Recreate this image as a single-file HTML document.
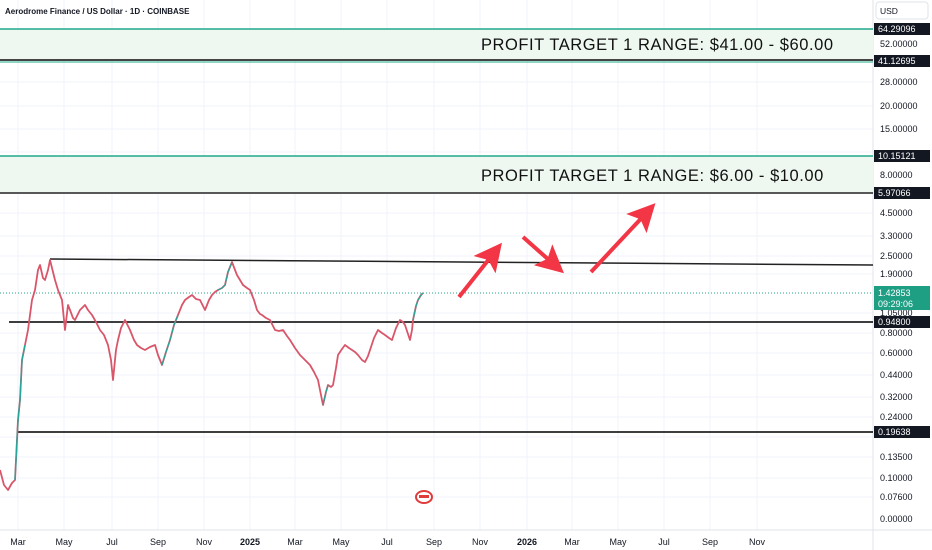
<!DOCTYPE html>
<html><head><meta charset="utf-8"><style>
body{margin:0;background:#fff;}
svg{display:block;font-family:"Liberation Sans",sans-serif;}
</style></head><body>
<svg width="932" height="550" viewBox="0 0 932 550" xmlns="http://www.w3.org/2000/svg">
<defs>
<marker id="ah" markerWidth="7" markerHeight="7" refX="5" refY="3.5" orient="auto" markerUnits="strokeWidth"><path d="M0,0 L7,3.5 L0,7 L1.5,3.5 Z" fill="#f23645"/></marker>
</defs>
<rect width="932" height="550" fill="#fff"/>
<g stroke="#f0f3fa" stroke-width="1">
<line x1="18" y1="0" x2="18" y2="530"/><line x1="64" y1="0" x2="64" y2="530"/><line x1="112" y1="0" x2="112" y2="530"/><line x1="158" y1="0" x2="158" y2="530"/><line x1="204" y1="0" x2="204" y2="530"/><line x1="250" y1="0" x2="250" y2="530"/><line x1="295" y1="0" x2="295" y2="530"/><line x1="341" y1="0" x2="341" y2="530"/><line x1="387" y1="0" x2="387" y2="530"/><line x1="434" y1="0" x2="434" y2="530"/><line x1="480" y1="0" x2="480" y2="530"/><line x1="527" y1="0" x2="527" y2="530"/><line x1="572" y1="0" x2="572" y2="530"/><line x1="618" y1="0" x2="618" y2="530"/><line x1="664" y1="0" x2="664" y2="530"/><line x1="710" y1="0" x2="710" y2="530"/><line x1="757" y1="0" x2="757" y2="530"/>
<line x1="0" y1="44" x2="873" y2="44"/><line x1="0" y1="82" x2="873" y2="82"/><line x1="0" y1="106" x2="873" y2="106"/><line x1="0" y1="129" x2="873" y2="129"/><line x1="0" y1="152" x2="873" y2="152"/><line x1="0" y1="175" x2="873" y2="175"/><line x1="0" y1="213" x2="873" y2="213"/><line x1="0" y1="236" x2="873" y2="236"/><line x1="0" y1="256" x2="873" y2="256"/><line x1="0" y1="274" x2="873" y2="274"/><line x1="0" y1="313" x2="873" y2="313"/><line x1="0" y1="333" x2="873" y2="333"/><line x1="0" y1="353" x2="873" y2="353"/><line x1="0" y1="375" x2="873" y2="375"/><line x1="0" y1="397" x2="873" y2="397"/><line x1="0" y1="417" x2="873" y2="417"/><line x1="0" y1="437" x2="873" y2="437"/><line x1="0" y1="457" x2="873" y2="457"/><line x1="0" y1="478" x2="873" y2="478"/><line x1="0" y1="497" x2="873" y2="497"/>
</g>
<line x1="0" y1="530" x2="932" y2="530" stroke="#e0e3eb"/>
<line x1="873" y1="0" x2="873" y2="550" stroke="#e0e3eb"/>
<rect x="0" y="29" width="873" height="31" fill="#eef8f0"/>
<line x1="0" y1="29" x2="873" y2="29" stroke="#22a88a" stroke-width="1.5"/>
<line x1="0" y1="60" x2="873" y2="60" stroke="#444" stroke-width="2"/>
<line x1="0" y1="62" x2="873" y2="62" stroke="#22a88a" stroke-width="1"/>
<text x="481" y="50" font-size="16.5" fill="#111" letter-spacing="0.55">PROFIT TARGET 1 RANGE: $41.00 - $60.00</text>
<rect x="0" y="156" width="873" height="37" fill="#eef8f0"/>
<line x1="0" y1="156" x2="873" y2="156" stroke="#22a88a" stroke-width="1.5"/>
<line x1="0" y1="193" x2="873" y2="193" stroke="#222" stroke-width="1.5"/>
<text x="481" y="181" font-size="16.5" fill="#111" letter-spacing="0.55">PROFIT TARGET 1 RANGE: $6.00 - $10.00</text>
<line x1="50" y1="259" x2="873" y2="265" stroke="#222" stroke-width="1.5"/>
<line x1="9" y1="322" x2="873" y2="322" stroke="#222" stroke-width="1.8"/>
<line x1="18" y1="432" x2="873" y2="432" stroke="#222" stroke-width="1.8"/>
<line x1="0" y1="293" x2="873" y2="293" stroke="#22a88a" stroke-width="1" stroke-dasharray="1,2"/>
<polyline fill="none" stroke="#d9566a" stroke-width="1.8" stroke-linejoin="round" points="0,470 4,485 8,490 12,483 15,480 18,420 20,400 22,360 25,345 28,330 32,300 35,290 38,270 40,265 43,278 45,280 48,270 50,260 53,272 55,280 58,290 62,300 65,330 68,305 70,310 73,318 75,320 80,310 85,305 88,310 92,315 96,322 100,330 104,335 108,345 111,360 113,380 116,350 118,340 121,328 125,320 128,326 130,330 134,340 137,345 141,348 145,350 150,347 155,345 158,355 162,365 166,352 170,340 174,325 178,315 182,305 185,300 189,297 192,295 196,299 200,300 203,306 205,310 209,300 212,295 215,292 218,290 222,288 225,285 228,272 232,262 235,270 237,275 240,280 243,285 247,288 250,290 254,300 257,310 260,314 262,315 266,318 270,320 273,326 275,330 279,331 283,330 287,336 290,340 295,348 300,355 305,360 310,365 314,372 318,380 321,395 323,405 326,392 328,385 331,387 333,385 336,368 338,355 342,349 345,345 349,348 352,350 355,352 358,355 362,360 365,362 368,356 370,350 374,338 378,330 382,333 385,335 389,338 392,340 396,328 400,320 403,322 405,325 408,334 410,340 412,330 413,320 416,306 418,300 421,295 423,293"/>
<polyline fill="none" stroke="#26a69a" stroke-width="1.4" points="15,480 18,420 20,400 22,360 25,345"/>
<polyline fill="none" stroke="#26a69a" stroke-width="1.2" points="162,365 166,352 170,340 174,325 178,315"/>
<polyline fill="none" stroke="#26a69a" stroke-width="1.2" points="218,290 222,288 225,285 228,272 232,262"/>
<polyline fill="none" stroke="#26a69a" stroke-width="1.2" points="323,405 326,392 328,385"/>
<polyline fill="none" stroke="#26a69a" stroke-width="1.2" points="413,320 416,306 418,300 421,295 423,293"/>
<line x1="459" y1="297" x2="497" y2="249" stroke="#f23645" stroke-width="4" marker-end="url(#ah)"/>
<line x1="523" y1="237" x2="558" y2="268" stroke="#f23645" stroke-width="4" marker-end="url(#ah)"/>
<line x1="591" y1="272" x2="650" y2="209" stroke="#f23645" stroke-width="4" marker-end="url(#ah)"/>
<ellipse cx="424" cy="497" rx="8" ry="6" fill="#fff" stroke="#e03a3a" stroke-width="2"/>
<rect x="419" y="495" width="10" height="3" fill="#e03a3a"/>
<text x="5" y="14" font-size="8" font-weight="bold" fill="#131722">Aerodrome Finance / US Dollar · 1D · COINBASE</text>
<rect x="876" y="2" width="52" height="17" rx="3" fill="#fff" stroke="#e0e3eb"/>
<text x="880" y="14" font-size="8.5" fill="#131722">USD</text>
<g font-size="9" fill="#131722">
<text x="880" y="47">52.00000</text><text x="880" y="85">28.00000</text><text x="880" y="109">20.00000</text><text x="880" y="132">15.00000</text><text x="880" y="178">8.00000</text><text x="880" y="216">4.50000</text><text x="880" y="239">3.30000</text><text x="880" y="259">2.50000</text><text x="880" y="277">1.90000</text><text x="880" y="316">1.05000</text><text x="880" y="336">0.80000</text><text x="880" y="356">0.60000</text><text x="880" y="378">0.44000</text><text x="880" y="400">0.32000</text><text x="880" y="420">0.24000</text><text x="880" y="460">0.13500</text><text x="880" y="481">0.10000</text><text x="880" y="500">0.07600</text><text x="880" y="522">0.00000</text>
</g>
<g font-size="9" fill="#fff">
<rect x="874" y="23" width="56" height="12" fill="#131722"/><text x="878" y="32">64.29096</text>
<rect x="874" y="55" width="56" height="12" fill="#131722"/><text x="878" y="64">41.12695</text>
<rect x="874" y="150" width="56" height="12" fill="#131722"/><text x="878" y="159">10.15121</text>
<rect x="874" y="187" width="56" height="12" fill="#131722"/><text x="878" y="196">5.97066</text>
<rect x="874" y="286" width="56" height="24" fill="#1e9f84"/><text x="878" y="296">1.42853</text><text x="878" y="307">09:29:06</text>
<rect x="874" y="316" width="56" height="12" fill="#131722"/><text x="878" y="325">0.94800</text>
<rect x="874" y="426" width="56" height="12" fill="#131722"/><text x="878" y="435">0.19638</text>
</g>
<g font-size="9" fill="#131722" text-anchor="middle">
<text x="18" y="545">Mar</text><text x="64" y="545">May</text><text x="112" y="545">Jul</text><text x="158" y="545">Sep</text><text x="204" y="545">Nov</text><text x="250" y="545" font-weight="bold">2025</text><text x="295" y="545">Mar</text><text x="341" y="545">May</text><text x="387" y="545">Jul</text><text x="434" y="545">Sep</text><text x="480" y="545">Nov</text><text x="527" y="545" font-weight="bold">2026</text><text x="572" y="545">Mar</text><text x="618" y="545">May</text><text x="664" y="545">Jul</text><text x="710" y="545">Sep</text><text x="757" y="545">Nov</text>
</g>
</svg>
</body></html>
